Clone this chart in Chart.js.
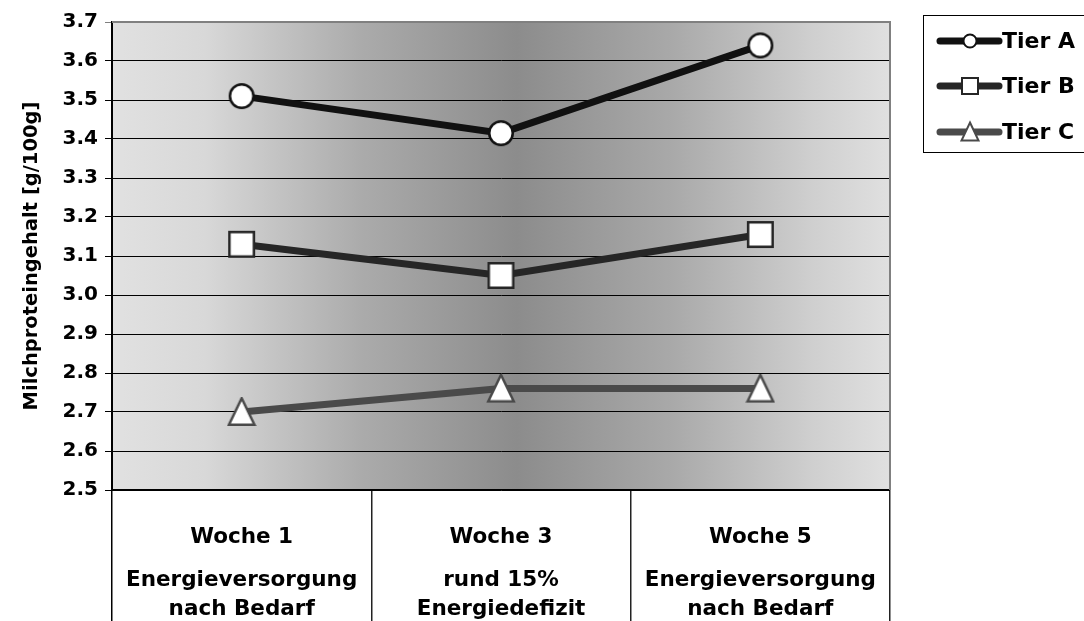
<!DOCTYPE html>
<html>
<head>
<meta charset="utf-8">
<script src="https://cdn.jsdelivr.net/npm/chart.js@4/dist/chart.umd.min.js"></script>
<style>
html,body{margin:0;padding:0;background:#fff;}
#wrap{width:1084px;height:621px;position:relative;}
</style>
</head>
<body>
<div id="wrap"><canvas id="c" width="1084" height="621"></canvas></div>
<script>
const categories = ['Woche 1', 'Woche 3', 'Woche 5'];
const subLabels = [
  ['Energieversorgung', 'nach Bedarf'],
  ['rund 15%', 'Energiedefizit'],
  ['Energieversorgung', 'nach Bedarf']
];
const seriesNames = ['Tier A', 'Tier B', 'Tier C'];
const tierA = [3.51, 3.415, 3.64];
const tierB = [3.13, 3.05, 3.155];
const tierC = [2.70, 2.76, 2.76];
const yMin = 2.5, yMax = 3.7, yStep = 0.1;
const yTitle = 'Milchproteingehalt [g/100g]';

const FONT = "'DejaVu Sans', sans-serif";

// marker drawing: size = bounding box size
function drawMarker(ctx, style, cx, cy, size, color, bw) {
  ctx.save();
  ctx.fillStyle = '#fff';
  ctx.strokeStyle = color;
  ctx.lineWidth = bw;
  ctx.lineJoin = 'miter';
  ctx.beginPath();
  const h = size / 2 - bw / 2;
  if (style === 'circle') {
    ctx.arc(cx, cy, h, 0, Math.PI * 2);
  } else if (style === 'rect') {
    ctx.rect(cx - h, cy - h, 2 * h, 2 * h);
  } else {
    ctx.moveTo(cx, cy - h - 1);
    ctx.lineTo(cx + h, cy + h);
    ctx.lineTo(cx - h, cy + h);
    ctx.closePath();
  }
  ctx.fill();
  ctx.stroke();
  ctx.restore();
}
function markerCanvas(style, size, color, bw) {
  const c = document.createElement('canvas');
  c.width = size + 2; c.height = size + 2;
  drawMarker(c.getContext('2d'), style, (size + 2) / 2, (size + 2) / 2, size, color, bw);
  return c;
}

const bgPlugin = {
  id: 'bg',
  beforeDraw(chart) {
    const {ctx, chartArea: a} = chart;
    const g = ctx.createLinearGradient(a.left, 0, a.right, 0);
    g.addColorStop(0, '#e1e1e1');
    g.addColorStop(0.12, '#d8d8d8');
    g.addColorStop(0.32, '#ababab');
    g.addColorStop(0.52, '#8c8c8c');
    g.addColorStop(0.72, '#a9a9a9');
    g.addColorStop(0.9, '#cfcfcf');
    g.addColorStop(1, '#e0e0e0');
    ctx.save();
    ctx.fillStyle = g;
    ctx.fillRect(a.left, a.top, a.right - a.left, a.bottom - a.top);
    ctx.restore();
  },
  afterDatasetsDraw(chart) {
    const {ctx, chartArea: a} = chart;
    ctx.save();
    ctx.strokeStyle = '#808080';
    ctx.lineWidth = 2;
    ctx.beginPath();
    ctx.moveTo(a.left, a.top);
    ctx.lineTo(a.right, a.top);
    ctx.lineTo(a.right, a.bottom);
    ctx.stroke();
    ctx.restore();
  }
};

const catLabelPlugin = {
  id: 'catLabels',
  afterDraw(chart) {
    const {ctx, chartArea: a} = chart;
    const xs = chart.scales.x;
    ctx.save();
    ctx.fillStyle = '#000';
    ctx.textAlign = 'center';
    ctx.textBaseline = 'middle';
    ctx.font = "bold 21.5px " + FONT;
    categories.forEach((c, i) => {
      const x = xs.getPixelForTick(i);
      ctx.fillText(c, x, a.bottom + 47);
      ctx.fillText(subLabels[i][0], x, a.bottom + 90);
      ctx.fillText(subLabels[i][1], x, a.bottom + 119);
    });
    ctx.restore();
  }
};

const legendPlugin = {
  id: 'customLegend',
  afterDraw(chart) {
    const {ctx} = chart;
    ctx.save();
    ctx.strokeStyle = '#000';
    ctx.lineWidth = 1;
    ctx.strokeRect(923.5, 15.5, 170, 137);
    const ys = [41, 86, 132];
    const lsizes = [15, 18, 19];
    chart.data.datasets.forEach((ds, i) => {
      const y = ys[i];
      ctx.strokeStyle = ds.borderColor;
      ctx.lineWidth = 7;
      ctx.lineCap = 'round';
      ctx.beginPath();
      ctx.moveTo(940, y);
      ctx.lineTo(999, y);
      ctx.stroke();
      drawMarker(ctx, styles[i], 970, y, lsizes[i], ds.borderColor, 2);
      ctx.fillStyle = '#000';
      ctx.font = "bold 22px " + FONT;
      ctx.textAlign = 'left';
      ctx.textBaseline = 'middle';
      ctx.fillText(ds.label, 1002, y + 1);
    });
    ctx.restore();
  }
};

const colors = ['#111111', '#262626', '#4a4a4a'];
const styles = ['circle', 'rect', 'triangle'];
const msizes = [26, 27, 28];
const seriesData = [tierA, tierB, tierC];

new Chart(document.getElementById('c'), {
  type: 'line',
  data: {
    labels: categories,
    datasets: seriesData.map((d, i) => ({
      label: seriesNames[i],
      data: d,
      borderColor: colors[i],
      borderWidth: 7,
      pointStyle: markerCanvas(styles[i], msizes[i], colors[i], 2.5),
      pointRadius: 14,
      pointHoverRadius: 14,
      tension: 0,
      fill: false
    }))
  },
  options: {
    responsive: false,
    animation: false,
    events: [],
    layout: {padding: {left: 0, right: 194, top: 22, bottom: 0}},
    plugins: {legend: {display: false}, tooltip: {enabled: false}},
    scales: {
      x: {
        type: 'category',
        offset: true,
        grid: {
          display: true,
          offset: true,
          drawOnChartArea: false,
          drawTicks: true,
          tickLength: 131,
          lineWidth: 1.5,
          color: (ctx) => {
            const n = categories.length;
            if (ctx.index === 0) return '#000';
            if (ctx.index === n) return '#808080';
            return '#222';
          }
        },
        border: {display: true, color: '#000', width: 1.5},
        ticks: {display: false}
      },
      y: {
        min: yMin,
        max: yMax,
        afterFit(scale) { scale.width = 112; },
        ticks: {
          stepSize: yStep,
          padding: 7,
          color: '#000',
          font: {family: FONT, size: 20, weight: 'bold'},
          callback: (v) => Number(v).toFixed(1)
        },
        grid: {
          color: (ctx) => ctx.tick && Math.abs(ctx.tick.value - yMax) < 1e-6 ? '#808080' : '#000',
          lineWidth: 1,
          tickLength: 7,
          drawTicks: true
        },
        border: {display: true, color: '#000', width: 2},
        title: {
          display: true,
          text: yTitle,
          color: '#000',
          font: {family: FONT, size: 19.5, weight: 'bold'},
          padding: {top: 20, bottom: 0}
        }
      }
    }
  },
  plugins: [bgPlugin, catLabelPlugin, legendPlugin]
});
</script>
</body>
</html>
